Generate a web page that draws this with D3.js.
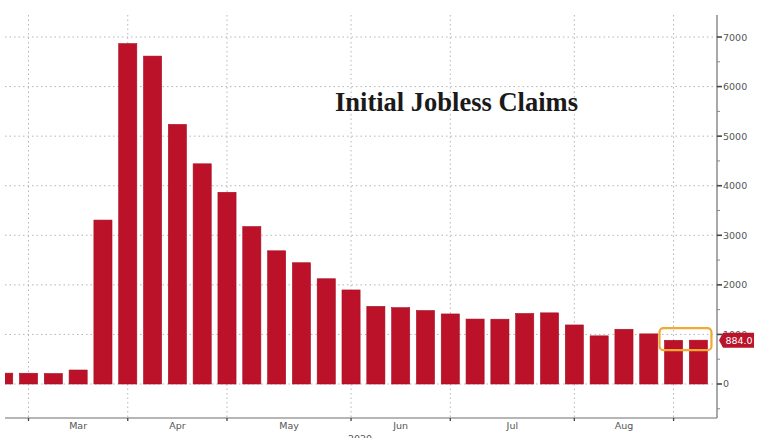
<!DOCTYPE html>
<html>
<head>
<meta charset="utf-8">
<script src="https://cdn.jsdelivr.net/npm/d3@7"></script>
<style>
  html, body { margin: 0; padding: 0; background: #fff; }
  svg { display: block; }
</style>
</head>
<body>
<svg id="chart" width="760" height="438"></svg>
<script>
// ---- Data (weekly initial jobless claims, thousands) ----
const weeks = ["2020-02-22","2020-02-29","2020-03-07","2020-03-14","2020-03-21","2020-03-28",
  "2020-04-04","2020-04-11","2020-04-18","2020-04-25","2020-05-02","2020-05-09","2020-05-16",
  "2020-05-23","2020-05-30","2020-06-06","2020-06-13","2020-06-20","2020-06-27","2020-07-04",
  "2020-07-11","2020-07-18","2020-07-25","2020-08-01","2020-08-08","2020-08-15","2020-08-22",
  "2020-08-29","2020-09-05"];
const claims = [219, 217, 211, 282, 3307, 6867, 6615, 5237, 4442, 3867, 3176, 2687, 2446,
  2123, 1897, 1566, 1540, 1482, 1413, 1310, 1307, 1422, 1435, 1191, 971, 1104, 1011, 881, 884];
const yTicks = [0, 1000, 2000, 3000, 4000, 5000, 6000, 7000];
const yMinorTicks = [-500, 500, 1500, 2500, 3500, 4500, 5500, 6500];
const gridWeeks = ["2020-02-29","2020-03-28","2020-04-25","2020-05-30","2020-06-27","2020-08-01","2020-08-29"];
const monthLabels = ["Mar","Apr","May","Jun","Jul","Aug"];
const yearLabel = "2020";
const lastLabel = "884.0";
const title = "Initial Jobless Claims";

// ---- Layout ----
const svg = d3.select("#chart");
const plot = { left: 5, right: 717, top: 15, bottom: 418 };

const x = d3.scaleBand()
  .domain(weeks)
  .range([-8.7, 710.8])
  .paddingInner(0.27)
  .paddingOuter(0.135);

const y = d3.scaleLinear()
  .domain([-686, 7444])
  .range([plot.bottom, plot.top]);

const cx = d => x(d) + x.bandwidth() / 2;

svg.append("defs").append("clipPath").attr("id", "clip")
  .append("rect")
  .attr("x", plot.left).attr("y", plot.top)
  .attr("width", plot.right - plot.left).attr("height", plot.bottom - plot.top);

// Horizontal gridlines
svg.append("g").selectAll("line").data(yTicks).join("line")
  .attr("x1", plot.left).attr("x2", plot.right)
  .attr("y1", d => y(d)).attr("y2", d => y(d))
  .attr("stroke", "#b5b5b5").attr("stroke-width", 1)
  .attr("stroke-dasharray", "1.5,3");

// Vertical gridlines
svg.append("g").selectAll("line").data(gridWeeks).join("line")
  .attr("x1", d => cx(d)).attr("x2", d => cx(d))
  .attr("y1", plot.top).attr("y2", plot.bottom)
  .attr("stroke", "#b5b5b5").attr("stroke-width", 1)
  .attr("stroke-dasharray", "1.5,3");

// Title
svg.append("text")
  .attr("x", 335).attr("y", 111)
  .attr("font-family", "'Liberation Serif', 'DejaVu Serif', serif")
  .attr("font-weight", "bold")
  .attr("font-size", 26.5)
  .attr("fill", "#1a1a1a")
  .text(title);

// Bars
svg.append("g").attr("clip-path", "url(#clip)")
  .selectAll("rect").data(weeks).join("rect")
  .attr("x", d => x(d))
  .attr("width", x.bandwidth())
  .attr("y", (d, i) => y(claims[i]))
  .attr("height", (d, i) => y(0) - y(claims[i]))
  .attr("fill", "#bb1229")
  .attr("stroke", "#a50f22")
  .attr("stroke-width", 0.6);

// X axis line
svg.append("line")
  .attr("x1", plot.left).attr("x2", plot.right)
  .attr("y1", plot.bottom).attr("y2", plot.bottom)
  .attr("stroke", "#6e6e6e").attr("stroke-width", 1.2);

// X ticks
svg.append("g").selectAll("line").data(gridWeeks).join("line")
  .attr("x1", d => cx(d)).attr("x2", d => cx(d))
  .attr("y1", plot.bottom).attr("y2", plot.bottom + 3)
  .attr("stroke", "#444").attr("stroke-width", 1.3);

// Month labels centred between gridlines
svg.append("g").selectAll("text").data(monthLabels).join("text")
  .attr("x", (d, i) => (cx(gridWeeks[i]) + cx(gridWeeks[i + 1])) / 2)
  .attr("y", 429)
  .attr("text-anchor", "middle")
  .attr("font-family", "'DejaVu Sans', sans-serif")
  .attr("font-size", 9.5)
  .attr("fill", "#555")
  .text(d => d);

svg.append("text")
  .attr("x", 360).attr("y", 442)
  .attr("text-anchor", "middle")
  .attr("font-family", "'DejaVu Sans', sans-serif")
  .attr("font-size", 9.5)
  .attr("fill", "#555")
  .text(yearLabel);

// Right Y axis
svg.append("line")
  .attr("x1", plot.right).attr("x2", plot.right)
  .attr("y1", plot.top).attr("y2", plot.bottom)
  .attr("stroke", "#7a7a7a").attr("stroke-width", 1.3);

svg.append("g").selectAll("line").data(yTicks).join("line")
  .attr("x1", plot.right).attr("x2", plot.right + 5)
  .attr("y1", d => y(d)).attr("y2", d => y(d))
  .attr("stroke", "#444").attr("stroke-width", 1.6);

svg.append("g").selectAll("line").data(yMinorTicks).join("line")
  .attr("x1", plot.right).attr("x2", plot.right + 3)
  .attr("y1", d => y(d)).attr("y2", d => y(d))
  .attr("stroke", "#888").attr("stroke-width", 1);

svg.append("g").selectAll("text").data(yTicks).join("text")
  .attr("x", plot.right + 6)
  .attr("y", d => y(d) + 3.5)
  .attr("font-family", "'DejaVu Sans', sans-serif")
  .attr("font-size", 9.5)
  .attr("fill", "#555")
  .text(d => d);

// Highlight box around last two bars
const lastIdx = weeks.length - 1;
const boxX0 = x(weeks[lastIdx - 1]) - 5;
const boxX1 = x(weeks[lastIdx]) + x.bandwidth() + 4;
svg.append("rect")
  .attr("x", boxX0).attr("y", y(claims[lastIdx]) - 12)
  .attr("width", boxX1 - boxX0).attr("height", 22)
  .attr("rx", 4).attr("ry", 4)
  .attr("fill", "none")
  .attr("stroke", "#f2a833").attr("stroke-width", 2.2);

// Last value tag
const ty = y(claims[lastIdx]);
const tag = svg.append("g");
tag.append("path")
  .attr("d", `M${plot.right + 2},${ty} L${plot.right + 6},${ty - 7.5} L${plot.right + 37},${ty - 7.5} L${plot.right + 37},${ty + 7.5} L${plot.right + 6},${ty + 7.5} Z`)
  .attr("fill", "#b8142b");
tag.append("text")
  .attr("x", plot.right + 22).attr("y", ty + 3.5)
  .attr("text-anchor", "middle")
  .attr("font-family", "'DejaVu Sans', sans-serif")
  .attr("font-size", 9.5)
  .attr("fill", "#fff")
  .text(lastLabel);
</script>
</body>
</html>
